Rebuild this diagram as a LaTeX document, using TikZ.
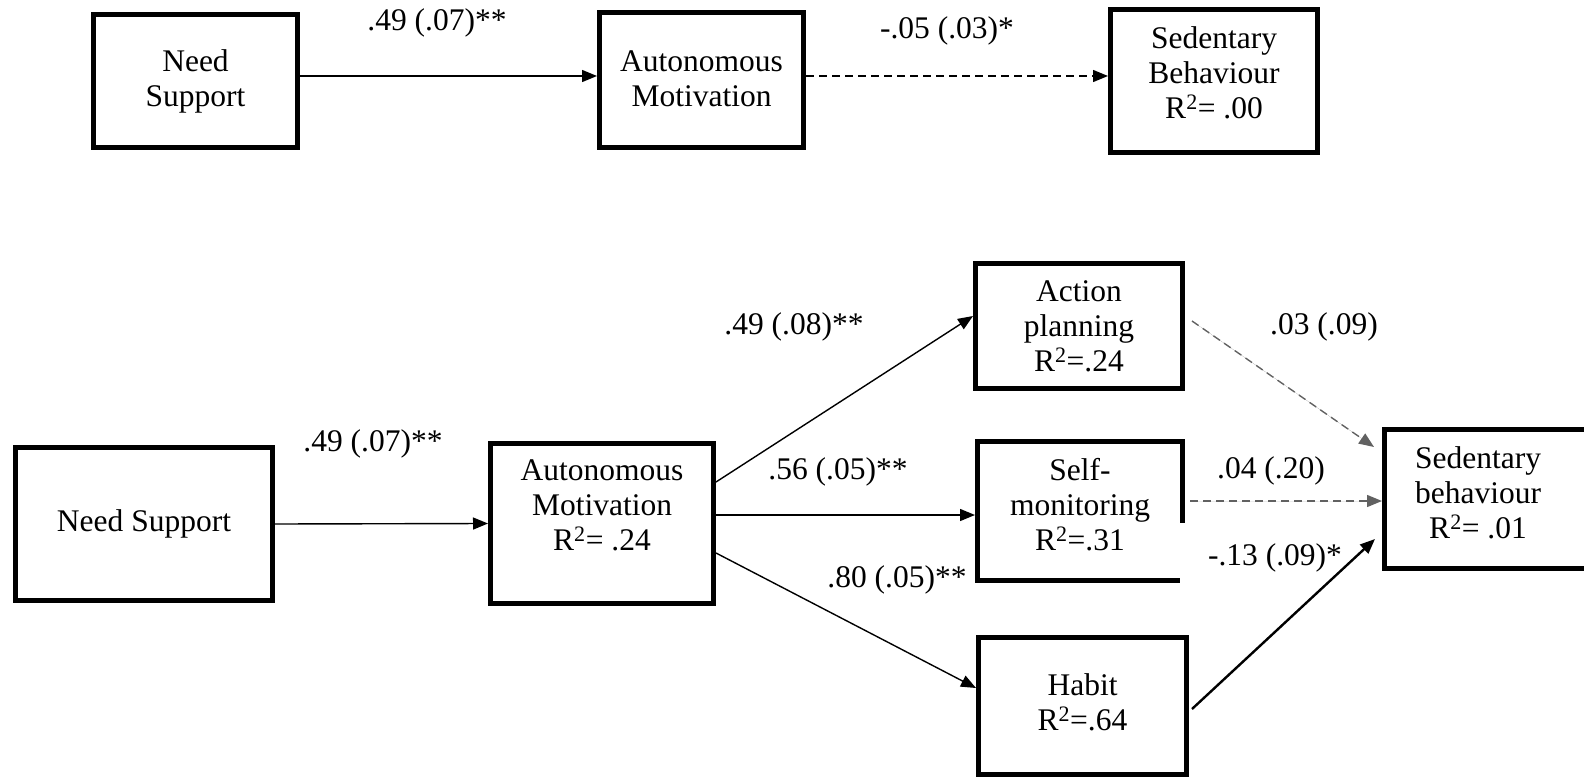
\documentclass[tikz,border=0pt]{standalone}
\usepackage{fontspec}
\setmainfont{Liberation Serif}
\usetikzlibrary{arrows.meta,calc}
\definecolor{dashgray}{gray}{0.38}
\begin{document}
\begin{tikzpicture}[x=1pt,y=-1pt,
  font=\fontsize{31.5}{35}\selectfont,
  box/.style={draw, line width=5pt, inner sep=0pt},
  inlbl/.style={align=center, inner sep=0pt},
  arr/.style={line width=1.4pt, -{Triangle[length=15pt,width=12pt]}},
  darr/.style={arr, dash pattern=on 8pt off 5pt},
  garr/.style={darr, draw=dashgray, fill=dashgray},
  coef/.style={inner sep=0pt}]
\useasboundingbox (0,0) rectangle (1584,778);

% ---------- top model ----------
\node[box, minimum width=204pt, minimum height=133pt,
  label={[inlbl]center:Need\\Support}] (ns1) at (195.5,81) {};
\node[box, minimum width=204pt, minimum height=135pt,
  label={[inlbl, yshift=1pt]center:Autonomous\\Motivation}] (am1) at (701.5,80) {};
\node[box, minimum width=207pt, minimum height=143pt,
  label={[inlbl, yshift=8.5pt]center:Sedentary\\Behaviour\\R\textsuperscript{2}= .00}] (sb1) at (1214,81) {};

\draw[arr] ($(ns1.east)+(0,-5)$) -- ($(am1.west)+(0,-4)$);
\draw[darr] ($(am1.east)+(0,-4)$) -- ($(sb1.west)+(0,-5)$);

\node[coef] (c1) at (437,23) {.49 (.07)**};
\node[coef] (c2) at (947,31) {-.05 (.03)*};

% ---------- bottom model ----------
\node[box, minimum width=257pt, minimum height=153pt,
  label={[inlbl]center:Need Support}] (ns2) at (144,524) {};
\node[box, minimum width=223pt, minimum height=160pt,
  label={[inlbl, yshift=18pt]center:Autonomous\\Motivation\\R\textsuperscript{2}= .24}] (am2) at (602,523.5) {};
\node[box, minimum width=207pt, minimum height=125pt,
  label={[inlbl]center:Action\\planning\\R\textsuperscript{2}=.24}] (ap) at (1079,326) {};
\node[box, minimum width=205pt, minimum height=139pt,
  label={[inlbl, yshift=6pt]center:Self-\\monitoring\\R\textsuperscript{2}=.31}] (sm) at (1080,511) {};
\node[box, minimum width=208pt, minimum height=137pt,
  label={[inlbl, yshift=4pt]center:Habit\\R\textsuperscript{2}=.64}] (hb) at (1082.5,706) {};
\node[box, minimum width=205pt, minimum height=139pt,
  label={[inlbl, yshift=6.5pt, xshift=-9pt]center:Sedentary\\behaviour\\R\textsuperscript{2}= .01}] (sb2) at (1487,499) {};

% white patch over the lower right corner of the self-monitoring box
\fill[white] (1180,523) rectangle (1318,597);

\draw[arr] (ns2.east) -- (am2.west);
\draw[arr] ($(am2.east)+(0,-41.5)$) -- ($(ap.west)+(0,-10)$);
\draw[arr] ($(am2.east)+(0,-8.5)$) -- ($(sm.west)+(0,4)$);
\draw[arr] ($(am2.east)+(0,29.5)$) -- ($(hb.west)+(0,-18)$);
\draw[garr] ($(ap.east)+(7,-5)$) -- ($(sb2.west)+(-8,-52)$);
\draw[garr] ($(sm.east)+(5,-10)$) -- ($(sb2.west)+(0,2)$);
\draw[arr, line width=2.4pt] ($(hb.east)+(3,3)$) -- ($(sb2.west)+(-7,40)$);

\node[coef] (c3) at (373,444) {.49 (.07)**};
\node[coef] (c4) at (794,327) {.49 (.08)**};
\node[coef] (c5) at (838,472) {.56 (.05)**};
\node[coef] (c6) at (897,580) {.80 (.05)**};
\node[coef] (c7) at (1324,327) {.03 (.09)};
\node[coef] (c8) at (1271,471) {.04 (.20)};
\node[coef] (c9) at (1275,558) {-.13 (.09)*};
\end{tikzpicture}
\end{document}
